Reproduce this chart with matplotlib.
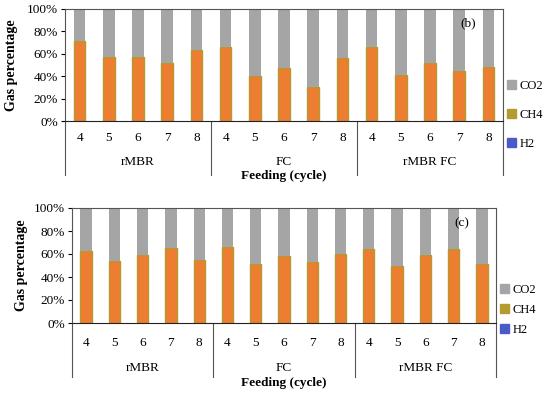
import matplotlib
matplotlib.use("Agg")
import matplotlib.pyplot as plt
from matplotlib.patches import Patch
from matplotlib.transforms import blended_transform_factory

plt.rcParams["font.family"] = ["Liberation Serif", "DejaVu Serif"]

# categories
groups = ["rMBR", "FC", "rMBR FC"]
cycles = ["4", "5", "6", "7", "8"]

# panel (b): gas percentages (%)
h2_b = [0, 0, 0, 0, 0, 0, 0, 0, 0, 0, 0, 0, 0, 0, 0]
ch4_b = [71, 57, 57, 52, 63, 66, 40, 47, 30, 56, 66, 41, 52, 45, 48]
co2_b = [100 - h - c for h, c in zip(h2_b, ch4_b)]

# panel (c)
h2_c = [0, 0, 0, 0, 0, 0, 0, 0, 0, 0, 0, 0, 0, 0, 0]
ch4_c = [63, 54, 59, 65, 55, 66, 51, 58, 53, 60, 64, 50, 59, 64, 51]
co2_c = [100 - h - c for h, c in zip(h2_c, ch4_c)]

C_CO2 = "#A5A5A5"
C_CH4 = "#ED7D31"
C_CH4_EDGE = "#B59A2F"
C_H2 = "#4B5AC8"
W, H = 550, 394
FS = 9.5


def panel(rect, h2, ch4, co2, tag, y_tick, y_grp, y_feed, y_line, leg_y, leg_sp, ylab_x):
    x0, y_bot, x1, y_top = rect
    ax = plt.gcf().add_axes([x0 / W, 1 - y_bot / H, (x1 - x0) / W, (y_bot - y_top) / H])
    n = len(ch4)
    x = list(range(n))
    bw = 0.4
    ax.bar(x, h2, bw, color=C_H2)
    ax.bar(x, ch4, bw, bottom=h2, color=C_CH4, edgecolor=C_CH4_EDGE, linewidth=1.0)
    bottoms = [a + b for a, b in zip(h2, ch4)]
    ax.bar(x, co2, bw, bottom=bottoms, color=C_CO2)

    ax.set_xlim(-0.5, n - 0.5)
    ax.set_ylim(0, 100)
    ax.set_yticks(range(0, 101, 20))
    ax.set_yticklabels([f"{v}%" for v in range(0, 101, 20)], fontsize=FS)
    ax.set_xticks([])
    for s in ax.spines.values():
        s.set_color("#555555")
        s.set_linewidth(0.8)
    ax.spines["bottom"].set_color("#222222")
    ax.tick_params(axis="y", length=3, width=0.8, pad=2)

    tr = blended_transform_factory(ax.transData, ax.transAxes)
    for i in x:
        ax.text(i, y_tick, cycles[i % len(cycles)], transform=tr,
                ha="center", va="center", fontsize=FS)
    k = len(cycles)
    for g, name in enumerate(groups):
        ax.text(g * k + (k - 1) / 2, y_grp, name, transform=tr,
                ha="center", va="center", fontsize=FS)
    for xs in [-0.5 + g * k for g in range(len(groups) + 1)]:
        ax.plot([xs, xs], [0, y_line], transform=tr, color="#555555",
                linewidth=0.8, clip_on=False)
    ax.text(0.5, y_feed, "Feeding (cycle)", transform=ax.transAxes,
            ha="center", va="center", fontsize=FS, fontweight="bold")
    ax.text(0.92, 0.87, tag, transform=ax.transAxes, ha="center", va="center", fontsize=FS)

    plt.gcf().text(ylab_x / W, 1 - (y_top + y_bot) / 2 / H, "Gas percentage",
                   rotation=90, ha="center", va="center", fontsize=10, fontweight="bold")

    handles = [Patch(color=C_CO2, label="CO2"), Patch(color=C_CH4_EDGE, label="CH4"),
               Patch(color=C_H2, label="H2")]
    plt.gcf().legend(handles=handles, loc="center left",
                     bbox_to_anchor=((x1 + 4) / W, 1 - leg_y / H), frameon=False,
                     fontsize=9, handlelength=0.7, handleheight=0.7,
                     handletextpad=0.3, labelspacing=leg_sp, borderpad=0,
                     borderaxespad=0)
    return ax


fig = plt.figure(figsize=(W / 100, H / 100), dpi=100)
panel((65, 121, 503, 9), h2_b, ch4_b, co2_b, "(b)",
      -0.15, -0.37, -0.49, -0.48, 115, 1.35, 12)
panel((72, 323, 496, 208), h2_c, ch4_c, co2_c, "(c)",
      -0.175, -0.39, -0.52, -0.47, 310, 0.65, 22)

plt.savefig("out.png", dpi=100)
plt.close()
